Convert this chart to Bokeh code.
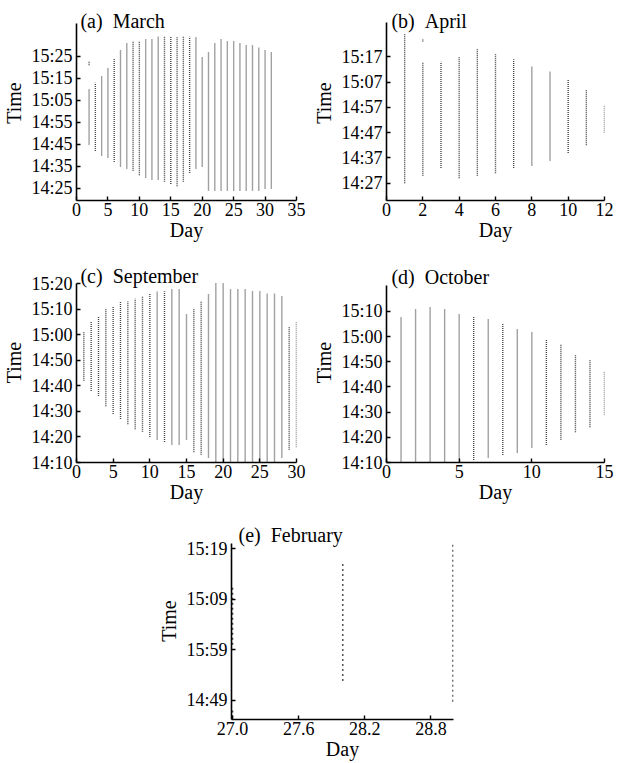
from bokeh.plotting import figure
from bokeh.models import FixedTicker, Label, Range1d, Spacer, NumeralTickFormatter
from bokeh.layouts import column, row
from bokeh.embed import file_html
from bokeh.resources import INLINE

# Times are minutes after 14:00; each day is a run of one-minute observations
mar_days = list(range(2, 32))
mar_start = [45, 42, 40, 39, 37, 35, 34, 33, 31, 30, 29, 29, 28, 27, 26, 28, 32, 34, 35,
             24, 24, 24, 24, 24, 24, 24, 24, 24, 25, 25]
mar_end = [70, 73, 76, 80, 84, 88, 91, 92, 92, 93, 93, 94, 94, 94, 94, 94, 94, 94, 85,
           87, 91, 93, 92, 92, 91, 90, 90, 89, 88, 87]
mar_extra_days = [2]
mar_extra_start = [81]
mar_extra_end = [83]

apr_days = list(range(1, 13))
apr_start = [27, 30, 33, 29, 30, 31, 33, 34, 36, 39, 42, 47]
apr_end = [86, 75, 75, 77, 80, 78, 76, 73, 71, 68, 64, 58]
apr_extra_days = [2]
apr_extra_start = [83]
apr_extra_end = [84]

sep_days = list(range(1, 31))
sep_start = [42, 38, 36, 32, 29, 27, 25, 23, 22, 20, 19, 18, 17, 17, 19,
             14, 13, 12, 10, 10, 10, 10, 10, 10, 10, 10, 10, 12, 15, 16]
sep_end = [61, 65, 67, 70, 71, 73, 73, 74, 75, 76, 77, 77, 78, 78, 68,
           70, 73, 76, 80, 80, 78, 78, 78, 77, 77, 76, 76, 75, 63, 65]

oct_days = list(range(1, 16))
oct_start = [10, 10, 10, 10, 10, 11, 12, 13, 14, 16, 17, 19, 22, 24, 29]
oct_end = [68, 71, 72, 71, 69, 68, 67, 65, 63, 62, 59, 57, 53, 51, 46]

feb_days = [27.0, 27.0, 28.0, 29.0]
feb_start = [60.0, 45.6, 52.8, 48.7]
feb_end = [71.7, 47.4, 76.4, 80.3]

mar_xticks = [0, 5, 10, 15, 20, 25, 30, 35]
mar_yticks = [25, 35, 45, 55, 65, 75, 85]
mar_ylabels = ["14:25", "14:35", "14:45", "14:55", "15:05", "15:15", "15:25"]

apr_xticks = [0, 2, 4, 6, 8, 10, 12]
apr_yticks = [27, 37, 47, 57, 67, 77]
apr_ylabels = ["14:27", "14:37", "14:47", "14:57", "15:07", "15:17"]

sep_xticks = [0, 5, 10, 15, 20, 25, 30]
sep_yticks = [10, 20, 30, 40, 50, 60, 70, 80]
sep_ylabels = ["14:10", "14:20", "14:30", "14:40", "14:50", "15:00", "15:10", "15:20"]

oct_xticks = [0, 5, 10, 15]
oct_yticks = [10, 20, 30, 40, 50, 60, 70]
oct_ylabels = ["14:10", "14:20", "14:30", "14:40", "14:50", "15:00", "15:10"]

feb_xticks = [27.0, 27.6, 28.2, 28.8]
feb_yticks = [49, 59, 69, 79]
feb_ylabels = ["14:49", "15:59", "15:09", "15:19"]

titles = ["(a) \u00a0March", "(b) \u00a0April", "(c) \u00a0September",
          "(d) \u00a0October", "(e) \u00a0February"]

FONT = "Liberation Serif"
DOT = "#444444"


def panel(width, height, bl, br, bt, bb, xr, yr, extra, xticks, yticks, ylabels,
          title, tdx, tdy, xfmt=None):
    fw = width - bl - br
    fh = height - bt - bb
    scale = (yr[1] - yr[0]) / (fh - extra)
    y_end = yr[1] + extra * scale
    p = figure(width=width, height=height, x_range=Range1d(*xr),
               y_range=Range1d(yr[0], y_end),
               output_backend="svg", toolbar_location=None,
               min_border_left=bl, min_border_right=br, min_border_top=bt,
               min_border_bottom=bb)
    p.outline_line_color = None
    p.grid.visible = False
    for ax in (p.xaxis[0], p.yaxis[0]):
        ax.axis_line_width = 1.6
        ax.axis_line_color = "black"
        ax.major_tick_in = 4
        ax.major_tick_out = 0
        ax.major_tick_line_width = 1.4
        ax.major_tick_line_color = "black"
        ax.minor_tick_line_color = None
        ax.major_label_text_font = FONT
        ax.major_label_text_font_size = "18px"
        ax.major_label_text_color = "black"
        ax.axis_label_text_font = FONT
        ax.axis_label_text_font_size = "20px"
        ax.axis_label_text_font_style = "normal"
        ax.axis_label_text_color = "black"
    p.yaxis.bounds = (yr[0], yr[1])
    p.xaxis.ticker = FixedTicker(ticks=xticks)
    if xfmt:
        p.xaxis.formatter = NumeralTickFormatter(format=xfmt)
    p.yaxis.ticker = FixedTicker(ticks=yticks)
    p.yaxis.major_label_overrides = {t: l for t, l in zip(yticks, ylabels)}
    p.xaxis.major_label_standoff = 2
    p.xaxis.axis_label_standoff = 0
    p.yaxis.major_label_standoff = 4
    p.yaxis.axis_label_standoff = 3
    p.xaxis.axis_label = "Day"
    p.yaxis.axis_label = "Time"
    lx = xr[0] + tdx * (xr[1] - xr[0]) / fw
    ly = y_end - tdy * scale
    p.add_layout(Label(x=lx, y=ly, text=title, text_font=FONT, text_font_size="20px",
                       text_baseline="top", text_align="left", text_color="black"))
    return p


def draw(p, days, starts, ends, dash):
    p.segment(x0=days, y0=starts, x1=days, y1=ends, line_color=DOT,
              line_width=1.4, line_dash=dash)


# row 1: y 0..250
pa = panel(310, 250, 72, 14, 5, 50, (0, 35), (19.5, 100), 18, mar_xticks, mar_yticks,
           mar_ylabels, titles[0], 4, 4)
draw(pa, mar_days, mar_start, mar_end, "1 1")
draw(pa, mar_extra_days, mar_extra_start, mar_extra_end, "1 1")

pb = panel(309, 250, 71, 15, 5, 50, (0, 12), (20.2, 90.5), 17, apr_xticks, apr_yticks,
           apr_ylabels, titles[1], 5, 4)
draw(pb, apr_days, apr_start, apr_end, "1 1")
draw(pb, apr_extra_days, apr_extra_start, apr_extra_end, "1 1")

# row 2: y 250..508
pc = panel(310, 258, 72, 14, 12, 46, (0, 30), (10, 80), 21, sep_xticks, sep_yticks,
           sep_ylabels, titles[2], 4, 2)
draw(pc, sep_days, sep_start, sep_end, "1 1")

pd_ = panel(309, 258, 71, 15, 12, 46, (0, 15), (10, 80.3), 23, oct_xticks, oct_yticks,
            oct_ylabels, titles[3], 5, 3)
draw(pd_, oct_days, oct_start, oct_end, "1 1")

# row 3: y 508..763
pe = panel(318, 255, 75, 20, 14, 44, (26.99, 29.005), (45.2, 80.0), 21, feb_xticks,
           feb_yticks, feb_ylabels, titles[4], 7, 1, xfmt="0.0")
draw(pe, feb_days, feb_start, feb_end, "2 3")

layout = column(row(pa, pb), row(pc, pd_), row(Spacer(width=155, height=255), pe))

open("out.html", "w").write(file_html(layout, INLINE))
